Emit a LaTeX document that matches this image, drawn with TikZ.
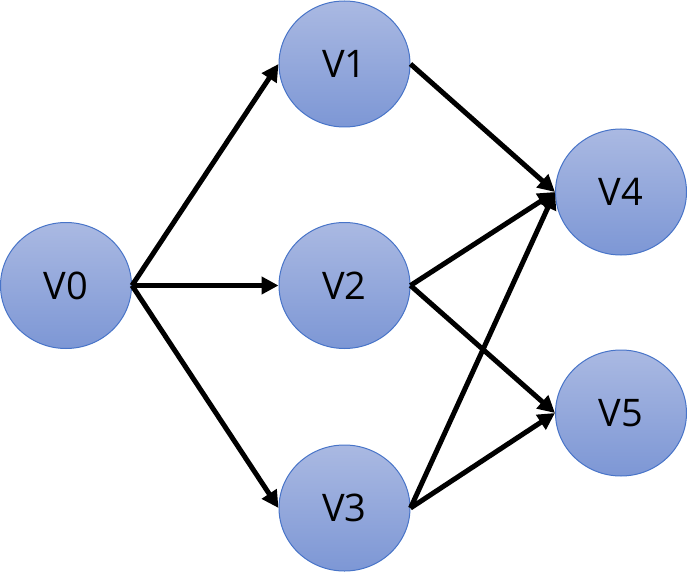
\documentclass[tikz,border=0pt]{standalone}
\usepackage{fontspec}
\setmainfont{Open Sans}
\usetikzlibrary{arrows.meta,shapes.geometric}
\definecolor{ctop}{RGB}{170,185,226}
\definecolor{cbot}{RGB}{125,151,213}
\definecolor{cedge}{RGB}{72,116,200}
\tikzset{
  vnode/.style={ellipse, minimum width=131pt, minimum height=126pt, inner sep=0pt,
    draw=cedge, line width=1pt, top color=ctop, bottom color=cbot,
    font=\fontsize{38}{42}\selectfont},
  conn/.style={line width=5pt, draw=black,
    -{Triangle[length=17pt,width=17pt]}, shorten >=0pt}
}
\begin{document}
\begin{tikzpicture}[x=1pt,y=-1pt]
\useasboundingbox (0,0) rectangle (687,572);
\node[vnode] (v0) at (66,285.5) {V0};
\node[vnode] (v1) at (344.5,64) {V1};
\node[vnode] (v2) at (344.5,285.5) {V2};
\node[vnode] (v3) at (344.5,508) {V3};
\node[vnode] (v4) at (621,192) {V4};
\node[vnode] (v5) at (621,413) {V5};
\draw[conn] (v0.east) -- (v1.west);
\draw[conn] (v0.east) -- (v2.west);
\draw[conn] (v0.east) -- (v3.west);
\draw[conn] (v1.east) -- (v4.west);
\draw[conn] (v2.east) -- (v4.west);
\draw[conn] (v2.east) -- (v5.west);
\draw[conn] (v3.east) -- (v4.west);
\draw[conn] (v3.east) -- (v5.west);
\end{tikzpicture}
\end{document}
